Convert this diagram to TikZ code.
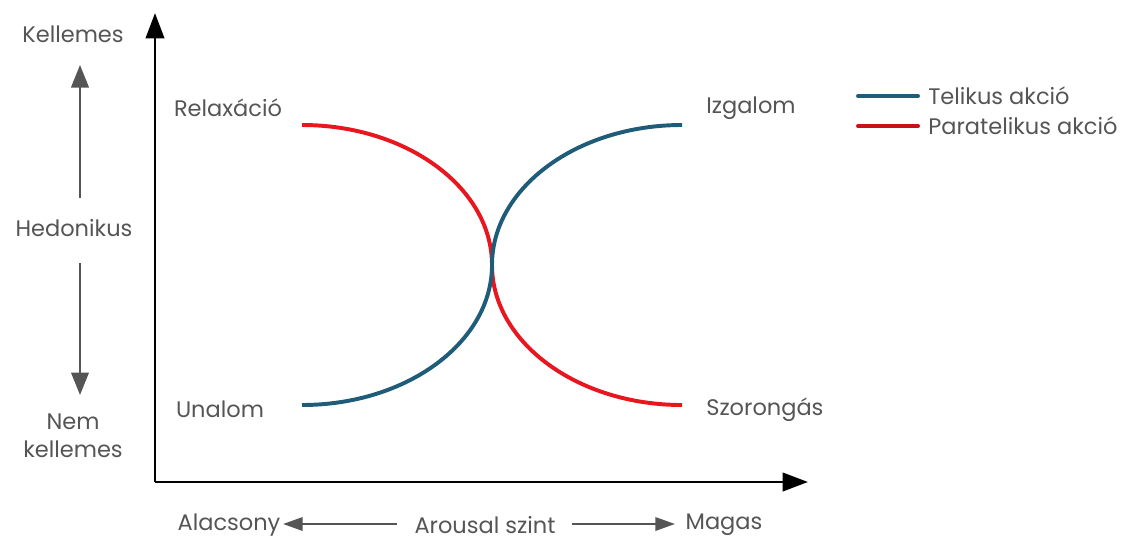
\documentclass[tikz,border=0pt]{standalone}
\usepackage{fontspec}
\setmainfont{Poppins}
\usetikzlibrary{arrows.meta}
\definecolor{telik}{HTML}{1F5C7A}
\definecolor{paratelik}{HTML}{E8161E}
\definecolor{txt}{HTML}{555555}
\definecolor{garrow}{HTML}{555555}
\begin{document}
\begin{tikzpicture}[x=0.025cm,y=-0.025cm,
  lbl/.style={text=txt,font=\fontsize{16}{20}\selectfont,inner sep=0pt},
  axis/.style={line width=2.1pt,-{Triangle[length=18pt,width=13pt]}},
  garr/.style={draw=garrow,line width=1.6pt,-{Triangle[length=16pt,width=12.5pt]}},
  garrh/.style={draw=garrow,line width=1.6pt,-{Triangle[length=14pt,width=9.5pt]}},
  curve/.style={line width=2.8pt}]
\useasboundingbox (0,0) rectangle (1128,540);
% axes
\coordinate (O) at (155,482);
\coordinate (Ytop) at (155,13);
\coordinate (Xend) at (808,482);
\draw[axis] (O) -- (Ytop);
\draw[axis] (O) -- (Xend);
% curve points
\coordinate (RL) at (302,125);
\coordinate (C) at (492,265);
\coordinate (SZ) at (682,405);
\coordinate (UN) at (302,405);
\coordinate (IZ) at (682,125);
\draw[curve,paratelik] (RL) .. controls (407,125) and (492,188) .. (C)
  .. controls (492,342) and (577,405) .. (SZ);
\draw[curve,telik] (UN) .. controls (407,405) and (492,342) .. (C)
  .. controls (492,188) and (577,125) .. (IZ);
% labels on curves
\node[lbl] (relax) at (228,108) {Relaxáció};
\node[lbl] (unalom) at (220,409) {Unalom};
\node[lbl,anchor=west] (izgalom) at (706,108) {Izgalom};
\node[lbl,anchor=west] (szor) at (706,410) {Szorongás};
% left labels
\node[lbl] (kell) at (73,34) {Kellemes};
\node[lbl] (hedo) at (74,228) {Hedonikus};
\node[lbl,align=center] (nemk) at (73,436) {Nem\\kellemes};
\coordinate (upA) at (80,198);
\coordinate (upB) at (80,65);
\coordinate (dnA) at (80,263);
\coordinate (dnB) at (80,395);
\draw[garr] (upA) -- (upB);
\draw[garr] (dnA) -- (dnB);
% bottom labels
\node[lbl] (alac) at (229,525) {Alacsony};
\node[lbl] (arou) at (485,525) {Arousal szint};
\node[lbl] (magas) at (724,525) {Magas};
\coordinate (lA) at (397,524);
\coordinate (lB) at (283,524);
\coordinate (rA) at (572,524);
\coordinate (rB) at (675,524);
\draw[garrh] (lA) -- (lB);
\draw[garrh] (rA) -- (rB);
% legend
\coordinate (b1) at (858,96);
\coordinate (b2) at (918,96);
\coordinate (r1) at (858,126);
\coordinate (r2) at (918,126);
\draw[curve,telik,line cap=round] (b1) -- (b2);
\draw[curve,paratelik!85!black,line cap=round] (r1) -- (r2);
\node[lbl,anchor=west] (tel) at (928,96) {Telikus akció};
\node[lbl,anchor=west] (par) at (928,126) {Paratelikus akció};
\end{tikzpicture}
\end{document}
